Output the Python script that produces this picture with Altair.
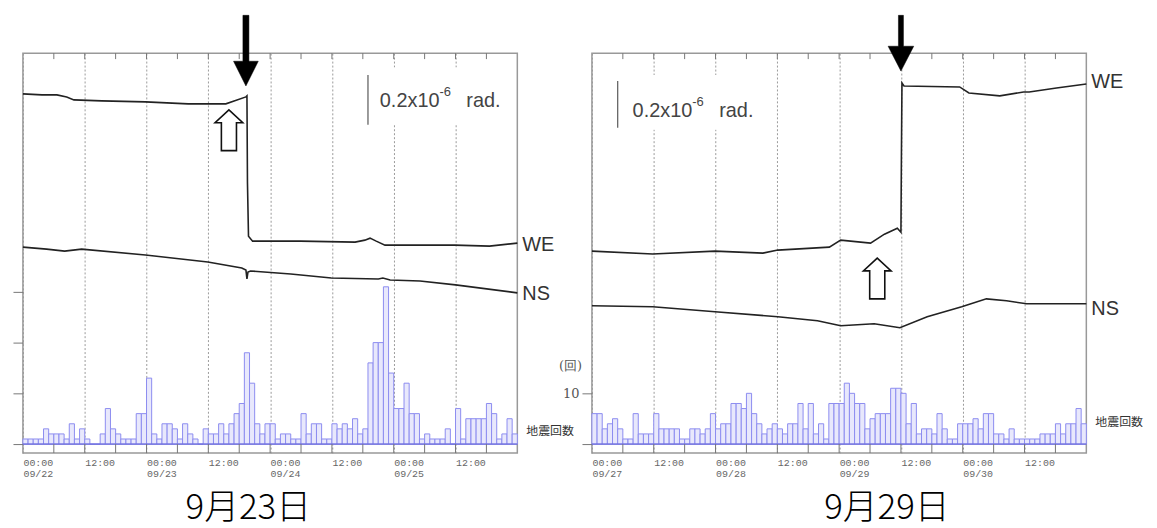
import json
import altair as alt
import pandas as pd

# ---------------- data (hours from 00:00 of first day; tilt in 1e-6 rad) ----------------
L_WE_T = [0, 3.7, 6.6, 8.5, 9.9, 15.3, 23.8, 32.1, 35.9, 39.4, 41.0, 43.3, 43.5, 43.6, 43.8, 44.6, 53.9, 64.5, 66.4, 67.4, 68.6, 70.3, 77.1, 83.8, 90.6, 96]
L_WE_V = [1.444, 1.440, 1.440, 1.432, 1.420, 1.416, 1.412, 1.404, 1.404, 1.404, 1.416, 1.432, 1.436, 1.088, 0.872, 0.852, 0.852, 0.848, 0.856, 0.864, 0.852, 0.836, 0.836, 0.836, 0.832, 0.844]
L_NS_T = [0, 4.6, 8.1, 11.4, 23.8, 35.9, 42.5, 43.3, 43.5, 43.7, 44.2, 52.0, 59.9, 69.0, 69.9, 71.3, 77.1, 84.0, 96]
L_NS_V = [0.828, 0.820, 0.812, 0.820, 0.796, 0.768, 0.744, 0.736, 0.700, 0.728, 0.732, 0.720, 0.704, 0.700, 0.704, 0.696, 0.692, 0.676, 0.644]

R_WE_T = [0, 11.8, 23.9, 33.2, 36.1, 46.1, 48.3, 54.1, 56.8, 59.3, 60.0, 60.1, 60.2, 60.6, 71.4, 73.2, 79.2, 83.8, 84.9, 90.2, 96]
R_WE_V = [0.812, 0.800, 0.812, 0.804, 0.816, 0.828, 0.856, 0.844, 0.880, 0.904, 0.888, 1.208, 1.488, 1.476, 1.472, 1.448, 1.436, 1.452, 1.452, 1.468, 1.484]
R_NS_T = [0, 11.8, 23.9, 36.1, 43.8, 48.3, 54.8, 59.8, 65.1, 71.8, 76.6, 80.5, 84.4, 96]
R_NS_V = [0.592, 0.588, 0.568, 0.548, 0.532, 0.512, 0.520, 0.504, 0.548, 0.588, 0.620, 0.612, 0.600, 0.600]

# hourly earthquake counts (地震回数)
L_COUNTS = [1, 1, 1, 1, 3, 2, 2, 2, 1, 4, 1, 3, 1, 0, 0, 2, 7, 3, 2, 1, 1, 1, 6, 6,
            13, 2, 1, 4, 4, 3, 1, 4, 2, 1, 0, 3, 2, 2, 4, 2, 4, 6, 8, 18, 12, 4, 2, 4,
            4, 1, 2, 2, 1, 1, 6, 2, 4, 4, 1, 1, 4, 3, 4, 3, 5, 2, 3, 16, 20, 20, 31, 14,
            7, 7, 12, 6, 6, 1, 2, 1, 1, 1, 3, 0, 7, 1, 5, 5, 5, 5, 8, 6, 1, 2, 5, 2]
R_COUNTS = [6, 6, 3, 4, 5, 3, 1, 1, 6, 2, 2, 2, 6, 3, 3, 3, 3, 1, 1, 3, 3, 2, 3, 6,
            3, 4, 4, 8, 8, 7, 10, 6, 4, 2, 3, 4, 3, 2, 4, 4, 8, 3, 8, 2, 4, 1, 8, 8,
            8, 12, 10, 8, 8, 3, 5, 6, 6, 6, 11, 11, 10, 4, 8, 2, 3, 3, 2, 6, 3, 1, 1, 4,
            4, 4, 5, 3, 6, 6, 2, 2, 1, 3, 1, 1, 1, 1, 1, 2, 2, 2, 4, 2, 4, 4, 7, 4]

L_TICKLABELS = ["00:00|09/22", "12:00", "00:00|09/23", "12:00", "00:00|09/24", "12:00", "00:00|09/25", "12:00"]
R_TICKLABELS = ["00:00|09/27", "12:00", "00:00|09/28", "12:00", "00:00|09/29", "12:00", "00:00|09/30", "12:00"]
TITLES = ["9月23日", "9月29日"]
SERIES_NAMES = ["WE", "NS"]
L_LABEL_V = [0.836, 0.640]
R_LABEL_V = [1.492, 0.580]
COUNT_LABEL = "地震回数"
COUNT_UNIT = "(回)"
SCALE_TEXT = ["0.2x10", "-6", "rad."]

# annotation anchor points (hours, tilt)
L_BLACK_ARROW = (43.3, 1.618)
R_BLACK_ARROW = (60.0, 1.648)
L_WHITE_ARROW = (40.0, 1.298)
R_WHITE_ARROW = (55.4, 0.702)
L_SCALEBAR = (67.0, 1.52, 1.32, 69.3, 1.416)
R_SCALEBAR = (5.0, 1.496, 1.308, 7.9, 1.376)
# blank area behind the scale-bar text (t0, t1, v0, v1)
L_TEXTBOX = (68.4, 94.8, 1.32, 1.55)
R_TEXTBOX = (7.0, 33.5, 1.30, 1.52)

# ---------------- styling ----------------
T_MAX = 96
TILT_DOMAIN = [0, 1.608]
COUNT_DOMAIN = [-1.765, 77.06]
W, H = 497, 402

BLACK_LEFT = "M-0.085,-1L0.085,-1L0.085,0.3L0.35,0.3L0,1L-0.35,0.3L-0.085,0.3Z"
BLACK_RIGHT = "M-0.09,-1L0.09,-1L0.09,0.11L0.46,0.11L0,1L-0.46,0.11L-0.09,0.11Z"
WHITE_UP = "M0,-1L0.68,-0.37L0.37,-0.37L0.37,1L-0.37,1L-0.37,-0.37L-0.68,-0.37Z"


def panel(we_t, we_v, ns_t, ns_v, counts, ticklabels, title, label_v,
          black, black_path, black_size, white, scalebar, textbox, right_panel, title_dx):
    xs = alt.Scale(domain=[0, T_MAX], nice=False, zero=False)

    def cs():
        return alt.Scale(domain=COUNT_DOMAIN, nice=False, zero=False)

    def ts():
        return alt.Scale(domain=TILT_DOMAIN, nice=False, zero=False)

    label_expr = "split(" + json.dumps(ticklabels) + "[round(datum.value/12)], '|')"

    bars_df = pd.DataFrame({"t": list(range(len(counts))),
                            "t2": [i + 1 for i in range(len(counts))],
                            "n": counts})
    if right_panel:
        yaxis = alt.Axis(values=[0, 10], tickSize=10, tickColor="#777", domain=False,
                         grid=False, title=None, labelExpr="datum.value == 10 ? '10' : ''",
                         labelFont="DejaVu Serif", labelFontSize=13, labelColor="#555",
                         labelPadding=3)
    else:
        yaxis = alt.Axis(values=[0, 10, 20, 30], tickSize=10, tickColor="#777",
                         domain=False, grid=False, title=None, labels=False)

    layers = []
    layers.append(alt.Chart(bars_df).mark_rect(fill="#e8e8fc", stroke="#8c8cf0", strokeWidth=1).encode(
        x=alt.X("t:Q", scale=xs, axis=alt.Axis(
            values=[0, 12, 24, 36, 48, 60, 72, 84], grid=True, gridDash=[2, 2],
            gridColor="#9a9a9a", gridWidth=1, ticks=False, domain=False, title=None,
            labelExpr=label_expr, labelAlign="left", labelBaseline="top",
            labelPadding=5, labelFont="Liberation Mono", labelFontSize=10,
            labelColor="#666", labelLineHeight=11, labelFlush=False, labelOverlap=False)),
        x2="t2:Q",
        y=alt.Y("n:Q", scale=cs(), axis=yaxis),
        y2=alt.datum(0),
    ))
    zero_df = pd.DataFrame({"n": [0]})
    layers.append(alt.Chart(zero_df).mark_rule(color="#6b6bdb", strokeWidth=1.2).encode(
        y=alt.Y("n:Q", scale=cs(), axis=None)))
    tick_df = pd.DataFrame({"t": [6 * k for k in range(1, 16)],
                            "lo": COUNT_DOMAIN[0], "zero": 0,
                            "top": TILT_DOMAIN[1], "top2": TILT_DOMAIN[1] - 0.024})
    layers.append(alt.Chart(tick_df).mark_rule(color="#777", strokeWidth=1).encode(
        x="t:Q", y=alt.Y("lo:Q", scale=cs(), axis=None), y2="zero:Q"))
    cl_df = pd.DataFrame({"t": [T_MAX], "n": [4.3 if right_panel else 2.5], "s": [COUNT_LABEL]})
    layers.append(alt.Chart(cl_df).mark_text(
        align="left", baseline="middle", dx=9, font="Noto Sans CJK JP", fontSize=12,
        color="#333").encode(x="t:Q", y=alt.Y("n:Q", scale=cs(), axis=None), text="s:N"))
    if right_panel:
        unit_df = pd.DataFrame({"t": [0], "n": [15.3], "s": [COUNT_UNIT]})
        layers.append(alt.Chart(unit_df).mark_text(
            align="right", baseline="middle", dx=-10, font="DejaVu Serif", fontSize=13,
            color="#555").encode(x="t:Q", y=alt.Y("n:Q", scale=cs(), axis=None), text="s:N"))

    # tilt layers
    box_df = pd.DataFrame({"t0": [textbox[0]], "t1": [textbox[1]],
                           "v0": [textbox[2]], "v1": [textbox[3]]})
    layers.append(alt.Chart(box_df).mark_rect(fill="white").encode(
        x="t0:Q", x2="t1:Q", y=alt.Y("v0:Q", scale=ts(), axis=None), y2="v1:Q"))
    layers.append(alt.Chart(tick_df).mark_rule(color="#777", strokeWidth=1).encode(
        x="t:Q", y=alt.Y("top:Q", scale=ts(), axis=None), y2="top2:Q"))
    lines_df = pd.concat([
        pd.DataFrame({"t": we_t, "v": we_v, "s": SERIES_NAMES[0], "i": range(len(we_t))}),
        pd.DataFrame({"t": ns_t, "v": ns_v, "s": SERIES_NAMES[1], "i": range(len(ns_t))}),
    ])
    layers.append(alt.Chart(lines_df).mark_line(color="#222", strokeWidth=1.6).encode(
        x="t:Q", y=alt.Y("v:Q", scale=ts(), axis=None), detail="s:N", order="i:Q"))
    lab_df = pd.DataFrame({"t": [T_MAX, T_MAX], "v": label_v, "s": SERIES_NAMES})
    layers.append(alt.Chart(lab_df).mark_text(
        align="left", baseline="middle", dx=5, font="Liberation Sans", fontSize=20,
        color="#333").encode(x="t:Q", y=alt.Y("v:Q", scale=ts(), axis=None), text="s:N"))
    black_df = pd.DataFrame({"t": [black[0]], "v": [black[1]], "p": [black_path], "z": [black_size]})
    layers.append(alt.Chart(black_df).mark_point(filled=True, fill="#000", stroke="#000",
                                                 strokeWidth=0.5, opacity=1).encode(
        x="t:Q", y=alt.Y("v:Q", scale=ts(), axis=None),
        shape=alt.Shape("p:N", scale=None, legend=None),
        size=alt.Size("z:Q", scale=None, legend=None)))
    white_df = pd.DataFrame({"t": [white[0]], "v": [white[1]], "p": [WHITE_UP], "z": [1681]})
    layers.append(alt.Chart(white_df).mark_point(filled=True, fill="#fff", stroke="#111",
                                                 strokeWidth=1.6, opacity=1).encode(
        x="t:Q", y=alt.Y("v:Q", scale=ts(), axis=None),
        shape=alt.Shape("p:N", scale=None, legend=None),
        size=alt.Size("z:Q", scale=None, legend=None)))
    sb_df = pd.DataFrame({"t": [scalebar[0]], "v": [scalebar[1]], "v2": [scalebar[2]],
                          "tt": [scalebar[3]], "vt": [scalebar[4]],
                          "a": [SCALE_TEXT[0]], "b": [SCALE_TEXT[1]], "c": [SCALE_TEXT[2]]})
    layers.append(alt.Chart(sb_df).mark_rule(color="#666", strokeWidth=1.3).encode(
        x="t:Q", y=alt.Y("v:Q", scale=ts(), axis=None), y2="v2:Q"))
    layers.append(alt.Chart(sb_df).mark_text(
        align="left", baseline="middle", font="Liberation Sans", fontSize=20,
        color="#444").encode(x="tt:Q", y=alt.Y("vt:Q", scale=ts(), axis=None), text="a:N"))
    layers.append(alt.Chart(sb_df).mark_text(
        align="left", baseline="middle", dx=60, dy=-9, font="Liberation Sans", fontSize=13,
        color="#444").encode(x="tt:Q", y=alt.Y("vt:Q", scale=ts(), axis=None), text="b:N"))
    layers.append(alt.Chart(sb_df).mark_text(
        align="left", baseline="middle", dx=87, font="Liberation Sans", fontSize=20,
        color="#444").encode(x="tt:Q", y=alt.Y("vt:Q", scale=ts(), axis=None), text="c:N"))

    return alt.layer(*layers).resolve_scale(y="independent").properties(
        width=W, height=H,
        title=alt.TitleParams(title, orient="bottom", anchor="middle", fontSize=35,
                              font="Noto Sans CJK JP", fontWeight=300, color="#000",
                              baseline="alphabetic", dx=title_dx, offset=40))


left = panel(L_WE_T, L_WE_V, L_NS_T, L_NS_V, L_COUNTS, L_TICKLABELS, TITLES[0], L_LABEL_V,
             L_BLACK_ARROW, BLACK_LEFT, 5041, L_WHITE_ARROW, L_SCALEBAR, L_TEXTBOX, False, -22)
right = panel(R_WE_T, R_WE_V, R_NS_T, R_NS_V, R_COUNTS, R_TICKLABELS, TITLES[1], R_LABEL_V,
              R_BLACK_ARROW, BLACK_RIGHT, 3136, R_WHITE_ARROW, R_SCALEBAR, R_TEXTBOX, True, 48)

chart = alt.hconcat(left, right, spacing=75, bounds="flush").properties(
    padding={"left": 3, "top": 4, "right": 5, "bottom": 0},
    background="white",
).configure_view(stroke="#999", strokeWidth=1.5)

chart.save("out.html", embed_options={"renderer": "svg", "actions": False})
